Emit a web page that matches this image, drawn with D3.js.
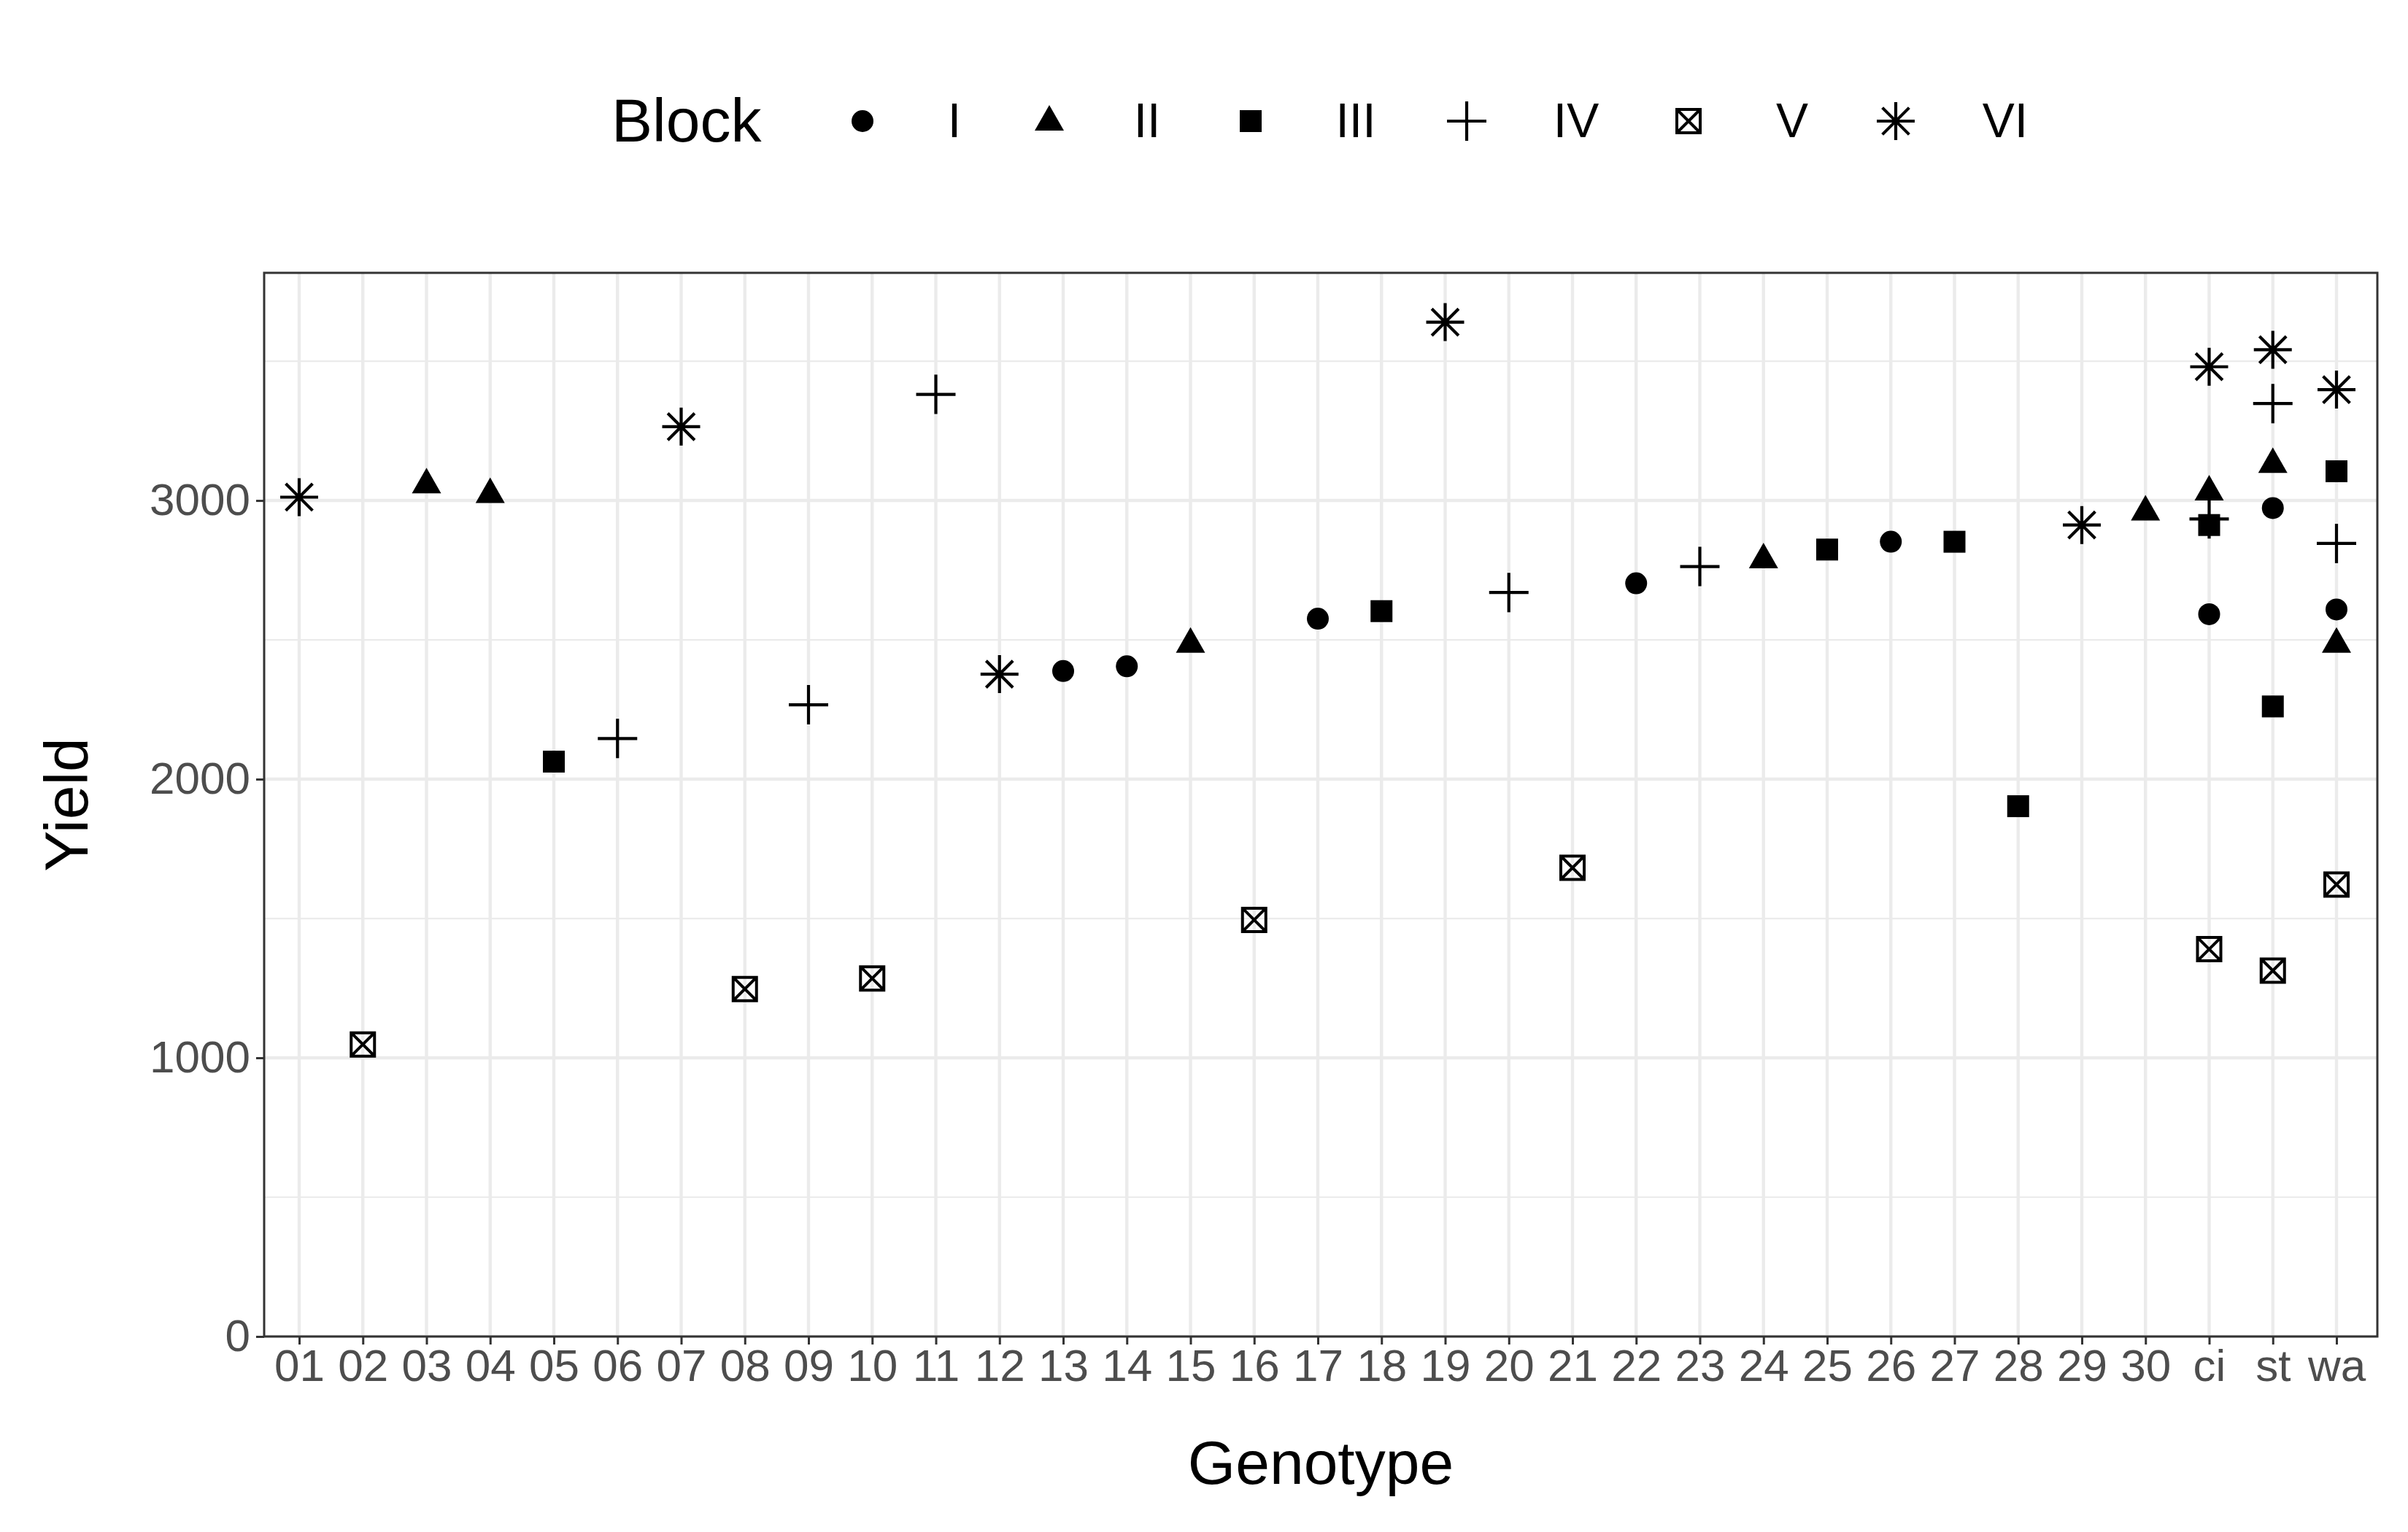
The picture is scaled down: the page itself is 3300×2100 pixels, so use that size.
<!DOCTYPE html>
<html><head><meta charset="utf-8">
<script src="https://cdn.jsdelivr.net/npm/d3@7"></script>
<style>body{margin:0;background:#fff}</style></head>
<body><svg id="c" width="3300" height="2100"></svg>
<script>
const genotypes = ["01","02","03","04","05","06","07","08","09","10","11","12","13","14","15","16","17","18","19","20","21","22","23","24","25","26","27","28","29","30","ci","st","wa"];
const blocks = ["I","II","III","IV","V","VI"];
const yTicks = [0,1000,2000,3000];
// [genotype, block, yield]
const obsGenotype = ["01","02","03","04","05","06","07","08","09","10","11","12","13","14","15","16","17","18","19","20","21","22","23","24","25","26","27","28","29","30",
 "ci","ci","ci","ci","ci","ci","st","st","st","st","st","st","wa","wa","wa","wa","wa","wa"];
const obsBlock = ["VI","V","II","II","III","IV","VI","V","IV","V","IV","VI","I","I","II","V","I","III","VI","IV","V","I","IV","II","III","I","III","III","VI","II",
 "VI","IV","II","III","I","V","VI","IV","II","I","III","V","VI","III","IV","I","II","V"];
const obsYield = [3012,1048,3060,3025,2063,2146,3265,1247,2267,1285,3381,2377,2388,2405,2488,1495,2576,2603,3640,2670,1682,2703,2763,2791,2824,2852,2852,1903,2912,2962,
 3480,2934,3034,2912,2592,1390,3541,3348,3133,2973,2261,1313,3398,3105,2846,2609,2488,1622];

const FONT="Liberation Sans, Arial, sans-serif";
const svg = d3.select("#c");
const L=362, R=3258, T=374, B=1832;
const x = d3.scalePoint().domain(genotypes).range([410,3202]);
const y = d3.scaleLinear().domain([0,3817]).range([B,T]);
const g = svg.append("g");
g.append("rect").attr("x",L).attr("y",T).attr("width",R-L).attr("height",B-T).attr("fill","#fff");
[500,1500,2500,3500].forEach(v=>g.append("line").attr("x1",L).attr("x2",R).attr("y1",y(v)).attr("y2",y(v)).attr("stroke","#EBEBEB").attr("stroke-width",2.2));
yTicks.forEach(v=>g.append("line").attr("x1",L).attr("x2",R).attr("y1",y(v)).attr("y2",y(v)).attr("stroke","#EBEBEB").attr("stroke-width",4.4));
genotypes.forEach(k=>g.append("line").attr("x1",x(k)).attr("x2",x(k)).attr("y1",T).attr("y2",B).attr("stroke","#EBEBEB").attr("stroke-width",4.4));

function shape(sel, b, k){
  if(b==="I") sel.append("circle").attr("r",15*k).attr("fill","#000");
  else if(b==="II") sel.append("path").attr("d",`M0,${-22*k}L${20*k},${13*k}L${-20*k},${13*k}Z`).attr("fill","#000");
  else if(b==="III") sel.append("rect").attr("x",-15*k).attr("y",-15*k).attr("width",30*k).attr("height",30*k).attr("fill","#000");
  else if(b==="IV") sel.append("path").attr("d",`M${-27*k},0H${27*k}M0,${-27*k}V${27*k}`).attr("stroke","#000").attr("stroke-width",4.2);
  else if(b==="V") sel.append("path").attr("d",`M${-16*k},${-16*k}H${16*k}V${16*k}H${-16*k}ZM${-16*k},${-16*k}L${16*k},${16*k}M${16*k},${-16*k}L${-16*k},${16*k}`).attr("stroke","#000").attr("stroke-width",4).attr("fill","none");
  else if(b==="VI"){ const a=26*k, d=a*0.707;
    sel.append("path").attr("d",`M${-a},0H${a}M0,${-a}V${a}M${-d},${-d}L${d},${d}M${d},${-d}L${-d},${d}`).attr("stroke","#000").attr("stroke-width",4.2);}
}
obsYield.forEach((v,i)=>{
  shape(g.append("g").attr("transform",`translate(${x(obsGenotype[i])},${y(v)})`), obsBlock[i], 1);
});
g.append("rect").attr("x",L).attr("y",T).attr("width",R-L).attr("height",B-T).attr("fill","none").attr("stroke","#333").attr("stroke-width",3);
const yAx = svg.append("g").attr("transform",`translate(${L},0)`).call(d3.axisLeft(y).tickValues(yTicks).tickFormat(d3.format("d")).tickSize(11).tickPadding(8));
const xAx = svg.append("g").attr("transform",`translate(0,${B})`).call(d3.axisBottom(x).tickSize(11).tickPadding(6));
[yAx,xAx].forEach(a=>{a.select(".domain").remove();a.selectAll("line").attr("stroke","#333").attr("stroke-width",3);
  a.selectAll("text").attr("fill","#4D4D4D").style("font-family",FONT).style("font-size","62px");});
svg.append("text").attr("x",(L+R)/2).attr("y",2034).attr("text-anchor","middle").style("font-family",FONT).style("font-size","84px").text("Genotype");
svg.append("text").attr("transform",`translate(120,${(T+B)/2}) rotate(-90)`).attr("text-anchor","middle").style("font-family",FONT).style("font-size","84px").text("Yield");
const lg = svg.append("g");
lg.append("text").attr("x",838).attr("y",194).style("font-family",FONT).style("font-size","84px").text("Block");
const symX=[1182,1438,1714,2010,2314,2598], labX=[1308,1572,1858,2160,2456,2748];
blocks.forEach((b,i)=>{
  shape(lg.append("g").attr("transform",`translate(${symX[i]},${166})`), b, 1);
  lg.append("text").attr("x",labX[i]).attr("y",188).attr("text-anchor","middle").style("font-family",FONT).style("font-size","66px").text(b);
});
</script></body></html>
